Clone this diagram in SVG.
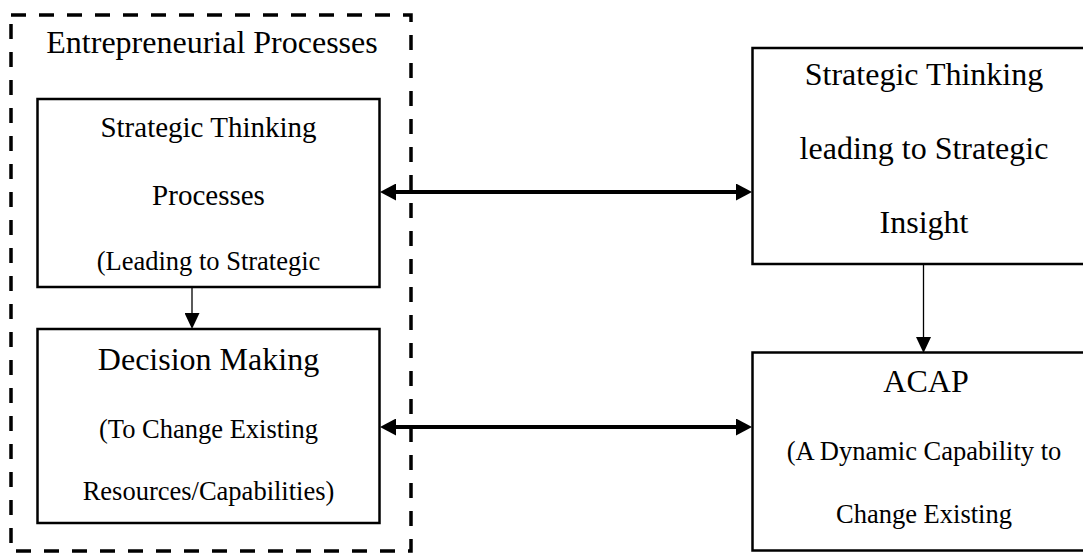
<svg xmlns="http://www.w3.org/2000/svg" width="1083" height="553" viewBox="0 0 1083 553">
  <style>
    .box { fill: #ffffff; stroke: #000000; stroke-width: 2.5; }
    .group { fill: none; stroke: #000000; stroke-width: 3.5; stroke-dasharray: 15 13; }
    text { font-family: "Liberation Serif", "Times New Roman", serif; fill: #000000; text-anchor: middle; }
    .big { font-size: 32px; }
    .mid { font-size: 29px; }
    .small { font-size: 26.5px; }
    .thick { stroke: #000000; stroke-width: 4; fill: none; }
    .thin { stroke: #000000; stroke-width: 1.3; fill: none; }
  </style>
  <defs>
    <marker id="headThick" markerUnits="userSpaceOnUse" markerWidth="16" markerHeight="17" refX="0" refY="8.5" orient="auto-start-reverse">
      <path d="M0,0 L16,8.5 L0,17 Z" fill="#000000"/>
    </marker>
    <marker id="headThin" markerUnits="userSpaceOnUse" markerWidth="16" markerHeight="15" refX="0" refY="7.5" orient="auto">
      <path d="M0,0 L16,7.5 L0,15 Z" fill="#000000"/>
    </marker>
  </defs>

  <g id="entrepreneurial-processes">
    <rect class="group" x="11" y="15" width="400" height="536"/>
    <text class="big" x="212" y="53">Entrepreneurial Processes</text>
  </g>

  <g id="strategic-thinking-processes">
    <rect class="box" x="37.5" y="99" width="342" height="188"/>
    <text class="mid" x="208.5" y="137">Strategic Thinking</text>
    <text class="mid" x="208.5" y="205">Processes</text>
    <text class="small" x="208.5" y="270">(Leading to Strategic</text>
  </g>

  <g id="decision-making">
    <rect class="box" x="37.5" y="329" width="342" height="194"/>
    <text class="big" x="208.5" y="370">Decision Making</text>
    <text class="small" x="208.5" y="438">(To Change Existing</text>
    <text class="small" x="208.5" y="500">Resources/Capabilities)</text>
  </g>

  <g id="strategic-insight">
    <rect class="box" x="752.5" y="48" width="343" height="216"/>
    <text class="big" x="924" y="85">Strategic Thinking</text>
    <text class="big" x="924" y="159">leading to Strategic</text>
    <text class="big" x="924" y="233">Insight</text>
  </g>

  <g id="acap">
    <rect class="box" x="752.5" y="352.5" width="343" height="198"/>
    <text class="big" x="926" y="392">ACAP</text>
    <text class="small" x="924" y="460">(A Dynamic Capability to</text>
    <text class="small" x="924" y="523">Change Existing</text>
  </g>

  <g id="connectors">
    <line class="thick" x1="396" y1="192" x2="736" y2="192" marker-start="url(#headThick)" marker-end="url(#headThick)"/>
    <line class="thick" x1="396" y1="427" x2="736" y2="427" marker-start="url(#headThick)" marker-end="url(#headThick)"/>
    <line class="thin" x1="192" y1="287" x2="192" y2="313" marker-end="url(#headThin)"/>
    <line class="thin" x1="923.5" y1="264" x2="923.5" y2="337" marker-end="url(#headThin)"/>
  </g>
</svg>
